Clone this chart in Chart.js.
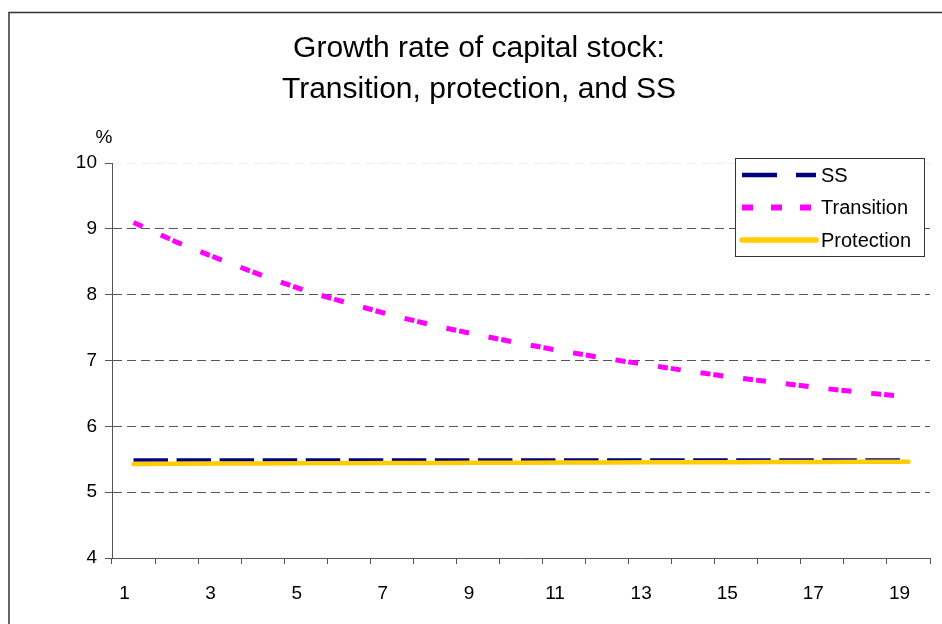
<!DOCTYPE html>
<html>
<head>
<meta charset="utf-8">
<script src="https://cdn.jsdelivr.net/npm/chart.js@4.4.0/dist/chart.umd.min.js"></script>
<style>
  html, body { margin:0; padding:0; background:#fff; }
  #wrap { width:942px; height:624px; }
</style>
</head>
<body>
<div id="wrap"><canvas id="growthChart" width="942" height="624"></canvas></div>
<script>
// data
const periods = ['1','2','3','4','5','6','7','8','9','10','11','12','13','14','15','16','17','18','19'];
const ssRate = [5.49, 5.49, 5.49, 5.49, 5.49, 5.49, 5.49, 5.49, 5.49, 5.49, 5.49, 5.49, 5.49, 5.49, 5.49, 5.49, 5.49, 5.49, 5.49];
const transitionRate = [9.10, 8.80, 8.54, 8.29, 8.06, 7.87, 7.69, 7.53, 7.39, 7.26, 7.14, 7.03, 6.93, 6.83, 6.74, 6.66, 6.58, 6.51, 6.45];
const protectionRate = [5.430, 5.433, 5.435, 5.437, 5.439, 5.441, 5.443, 5.445, 5.447, 5.449, 5.451, 5.452, 5.454, 5.455, 5.457, 5.458, 5.460, 5.461, 5.462];
const yTicks = [4, 5, 6, 7, 8, 9, 10];

const FONT = "'Liberation Sans', Arial, sans-serif";
Chart.defaults.font.family = FONT;
Chart.defaults.color = '#000';

// outer frame, unit label and the legend box inside the plot
const framePlugin = {
  id: 'frame',
  beforeDraw(chart) {
    const c = chart.ctx;
    c.save();
    c.fillStyle = '#fff';
    c.fillRect(0, 0, chart.width, chart.height);
    c.strokeStyle = '#333';
    c.lineWidth = 1.5;
    c.strokeRect(9, 12.5, 1000, 1000);
    c.restore();
  },
  afterDraw(chart) {
    const c = chart.ctx;
    c.save();
    c.font = '19px ' + FONT;
    c.fillStyle = '#000';
    c.textAlign = 'center';
    c.textBaseline = 'middle';
    c.fillText('%', 104, 138);

    // legend
    c.fillStyle = '#fff';
    c.fillRect(735, 158, 189, 98);
    c.strokeStyle = '#333';
    c.lineWidth = 1;
    c.strokeRect(735.5, 158.5, 189, 98);
    c.font = '20px ' + FONT;
    chart.data.datasets.forEach((ds, i) => {
      const y = 175 + i * 32.5;
      c.beginPath();
      c.setLineDash(ds.legendDash || []);
      c.lineCap = ds.borderCapStyle || 'butt';
      c.strokeStyle = ds.borderColor;
      c.lineWidth = ds.borderWidth + 1;
      c.moveTo(742, y);
      c.lineTo(816, y);
      c.stroke();
      c.setLineDash([]);
      c.fillStyle = '#000';
      c.textAlign = 'left';
      c.fillText(ds.label, 821, y + 1);
    });
    c.restore();
  }
};

const ctx = document.getElementById('growthChart').getContext('2d');
const growthChart = new Chart(ctx, {
  type: 'line',
  data: {
    labels: periods,
    datasets: [{
      label: 'SS',
      data: ssRate,
      borderColor: '#000080',
      borderWidth: 3.5,
      borderDash: [34.5, 8.55],
      legendDash: [35, 19],
      order: 2
    }, {
      label: 'Transition',
      data: transitionRate,
      borderColor: '#ff00ff',
      borderWidth: 5,
      borderDash: [10, 20, 10, 3],
      legendDash: [11, 18],
      order: 1
    }, {
      label: 'Protection',
      data: protectionRate,
      borderColor: '#ffcc00',
      borderWidth: 4.5,
      borderCapStyle: 'round',
      order: 0
    }]
  },
  options: {
    responsive: false,
    animation: false,
    devicePixelRatio: 1,
    elements: {
      point: { radius: 0, hoverRadius: 0 },
      line: { tension: 0, fill: false }
    },
    layout: { padding: { left: 28, right: 12, top: 0, bottom: 0 } },
    plugins: {
      legend: { display: false },
      tooltip: { enabled: false },
      title: {
        display: true,
        text: ['Growth rate of capital stock:', 'Transition, protection, and SS'],
        font: { size: 30, weight: 'normal', lineHeight: 1.37 },
        color: '#000',
        padding: { top: 28, bottom: 53 }
      }
    },
    scales: {
      x: {
        offset: true,
        grid: {
          offset: true,
          drawOnChartArea: false,
          tickLength: 6,
          tickColor: '#555'
        },
        border: { color: '#555', width: 1 },
        ticks: {
          autoSkip: false,
          maxRotation: 0,
          padding: 18,
          labelOffset: -9,
          font: { size: 19 },
          callback: (v, i) => (i % 2 === 0 ? periods[i] : '')
        },
        afterFit: s => { s.height = 66; }
      },
      y: {
        min: yTicks[0],
        max: yTicks[yTicks.length - 1],
        afterBuildTicks: s => { s.ticks = yTicks.map(v => ({ value: v })); },
        grid: {
          color: c => (c.tick.value === 4 ? 'rgba(0,0,0,0)' : c.tick.value === 10 ? '#eeeeee' : '#555'),
          lineWidth: 1,
          tickLength: 7,
          tickColor: '#555',
          tickBorderDash: []
        },
        border: { color: '#555', width: 1, dash: [9, 5] },
        ticks: {
          padding: 8,
          font: { size: 19 }
        },
        afterFit: s => { s.width = 84; }
      }
    }
  },
  plugins: [framePlugin]
});
</script>
</body>
</html>
